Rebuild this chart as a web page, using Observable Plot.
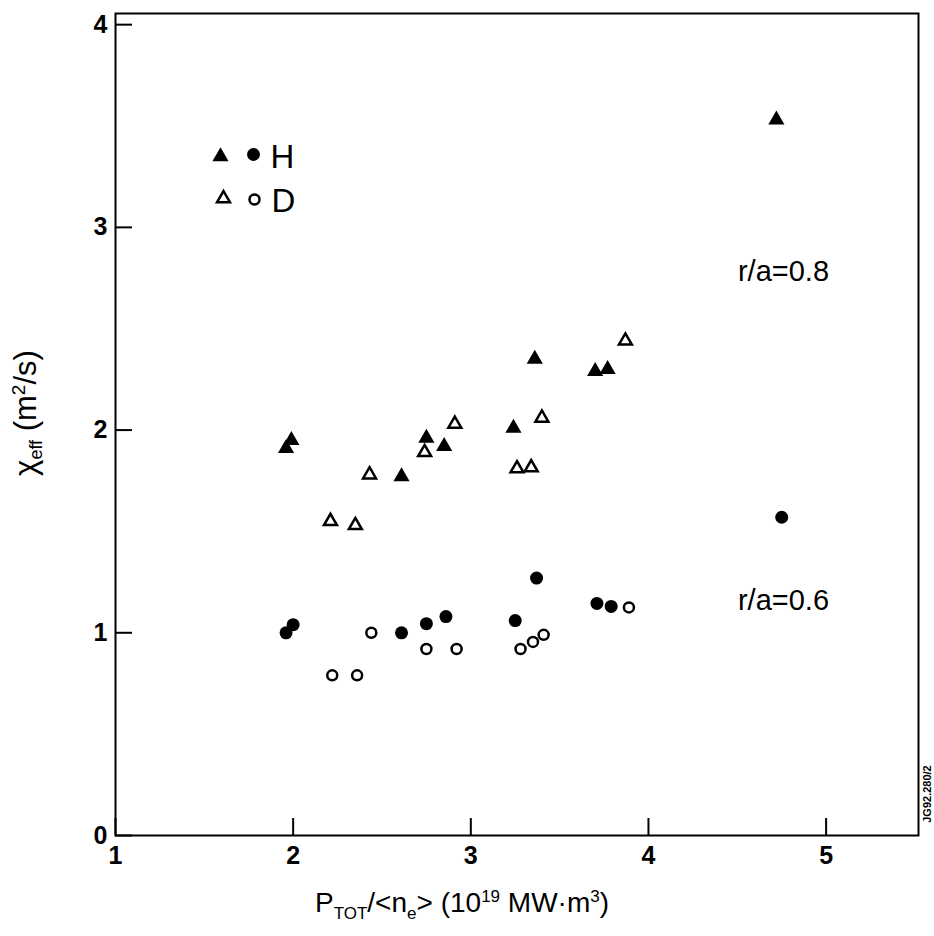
<!DOCTYPE html>
<html><head><meta charset="utf-8">
<script src="https://cdn.jsdelivr.net/npm/d3@7"></script>
<script src="https://cdn.jsdelivr.net/npm/@observablehq/plot@0.6"></script>
<style>body{margin:0;background:#fff} svg{display:block}</style>
</head><body><div id="chart"></div>
<script>
// Data: [P_TOT/<n_e>, chi_eff]
const hTriangles = [[1.96,1.91],[1.99,1.95],[2.61,1.77],[2.75,1.96],[2.85,1.92],[3.24,2.01],[3.36,2.35],[3.70,2.29],[3.77,2.30],[4.72,3.53]];
const dTriangles = [[2.21,1.55],[2.35,1.53],[2.43,1.78],[2.74,1.89],[2.91,2.03],[3.26,1.81],[3.34,1.815],[3.40,2.06],[3.87,2.44]];
const hCircles = [[1.96,1.00],[2.00,1.04],[2.61,1.00],[2.75,1.045],[2.86,1.08],[3.25,1.06],[3.37,1.27],[3.71,1.145],[3.79,1.13],[4.75,1.57]];
const dCircles = [[2.22,0.79],[2.36,0.79],[2.44,1.00],[2.75,0.92],[2.92,0.92],[3.28,0.92],[3.35,0.955],[3.41,0.99],[3.89,1.125]];
const xTicks = [1,2,3,4,5];
const yTicks = [0,1,2,3,4];
const radiusLabels = [{x:4.76, y:2.78, text:"r/a=0.8"},{x:4.76, y:1.16, text:"r/a=0.6"}];
const legendH = ["H"];
const legendD = ["D"];
const figureId = "JG92.280/2";

const W = 934, H = 936;
const mL = 115, mR = 16, mT = 13, mB = 101;
const frameW = W - mL - mR, frameH = H - mT - mB;
const xDomain = [1, 5.52], yDomain = [0, 4.055];
const tickLen = 17;
// tick length expressed in data units of each scale
const xTickLen = tickLen * (xDomain[1] - xDomain[0]) / frameW;
const yTickLen = tickLen * (yDomain[1] - yDomain[0]) / frameH;
const font = "'Liberation Sans', Arial, Helvetica, sans-serif";

const plot = Plot.plot({
  width: W, height: H,
  marginLeft: mL, marginRight: mR, marginTop: mT, marginBottom: mB,
  style: {fontFamily: font, background: "#fff", color: "#000"},
  x: {domain: xDomain},
  y: {domain: yDomain},
  marks: [
    Plot.frame({stroke: "#000", strokeWidth: 2}),
    Plot.ruleX(xTicks, {x: d => d, y1: yDomain[0], y2: yDomain[0] + yTickLen, stroke: "#000", strokeWidth: 2}),
    Plot.ruleY(yTicks, {y: d => d, x1: xDomain[0], x2: xDomain[0] + xTickLen, stroke: "#000", strokeWidth: 2}),
    Plot.axisX(xTicks, {tickSize: 0, tickPadding: 11, tickFormat: d => String(d), fontSize: 25, fontWeight: "bold", label: null}),
    Plot.axisY(yTicks, {tickSize: 0, tickPadding: 8, tickFormat: d => String(d), fontSize: 25, fontWeight: "bold", label: null}),
    Plot.dot(hTriangles, {x: d => d[0], y: d => d[1], symbol: "triangle", r: 6, fill: "#000", stroke: "none"}),
    Plot.dot(hCircles, {x: d => d[0], y: d => d[1], symbol: "circle", r: 6.5, fill: "#000", stroke: "none"}),
    Plot.dot(dTriangles, {x: d => d[0], y: d => d[1], symbol: "triangle", r: 4.8, fill: "#fff", stroke: "#000", strokeWidth: 2.5}),
    Plot.dot(dCircles, {x: d => d[0], y: d => d[1], symbol: "circle", r: 5, fill: "#fff", stroke: "#000", strokeWidth: 2.5}),
    Plot.text(radiusLabels, {x: "x", y: "y", text: "text", fontSize: 29, fill: "#000"}),
    // legend
    Plot.dot(legendH, {frameAnchor: "top-left", dx: 105, dy: 143, symbol: "triangle", r: 6, fill: "#000", stroke: "none"}),
    Plot.dot(legendH, {frameAnchor: "top-left", dx: 138, dy: 141, symbol: "circle", r: 6.5, fill: "#000", stroke: "none"}),
    Plot.text(legendH, {frameAnchor: "top-left", dx: 155, dy: 131, textAnchor: "start", fontSize: 33, fill: "#000"}),
    Plot.dot(legendD, {frameAnchor: "top-left", dx: 108, dy: 185, symbol: "triangle", r: 4.8, fill: "#fff", stroke: "#000", strokeWidth: 2.5}),
    Plot.dot(legendD, {frameAnchor: "top-left", dx: 139, dy: 186, symbol: "circle", r: 5, fill: "#fff", stroke: "#000", strokeWidth: 2.5}),
    Plot.text(legendD, {frameAnchor: "top-left", dx: 156, dy: 175, textAnchor: "start", fontSize: 33, fill: "#000"})
  ]
});

const svg = d3.select(plot);
// y-axis label with subscript and superscript
const yl = svg.append("text")
  .attr("transform", "translate(36,413) rotate(-90)")
  .attr("text-anchor", "middle")
  .attr("font-family", font).attr("font-size", 31).attr("fill", "#000");
yl.append("tspan").text("\u03C7");
yl.append("tspan").attr("font-size", 18).attr("dy", 6).text("eff");
yl.append("tspan").attr("dy", -6).text(" (m");
yl.append("tspan").attr("font-size", 19).attr("dy", -11).text("2");
yl.append("tspan").attr("dy", 11).text("/s)");

// x-axis label
const xl = svg.append("text")
  .attr("x", 462).attr("y", 912)
  .attr("text-anchor", "middle")
  .attr("font-family", font).attr("font-size", 28).attr("fill", "#000");
xl.append("tspan").text("P");
xl.append("tspan").attr("font-size", 17).attr("dy", 7).text("TOT");
xl.append("tspan").attr("dy", -7).text("/<n");
xl.append("tspan").attr("font-size", 17).attr("dy", 7).text("e");
xl.append("tspan").attr("dy", -7).text("> (10");
xl.append("tspan").attr("font-size", 17).attr("dy", -10).text("19");
xl.append("tspan").attr("dy", 10).text(" MW\u00B7m");
xl.append("tspan").attr("font-size", 17).attr("dy", -10).text("3");
xl.append("tspan").attr("dy", 10).text(")");

// figure id at the right edge
svg.append("text")
  .attr("transform", "translate(931,794) rotate(-90)")
  .attr("text-anchor", "middle")
  .attr("font-family", font).attr("font-size", 11).attr("font-weight", "bold").attr("fill", "#000")
  .text(figureId);

document.getElementById("chart").appendChild(plot);
</script>
</body></html>
